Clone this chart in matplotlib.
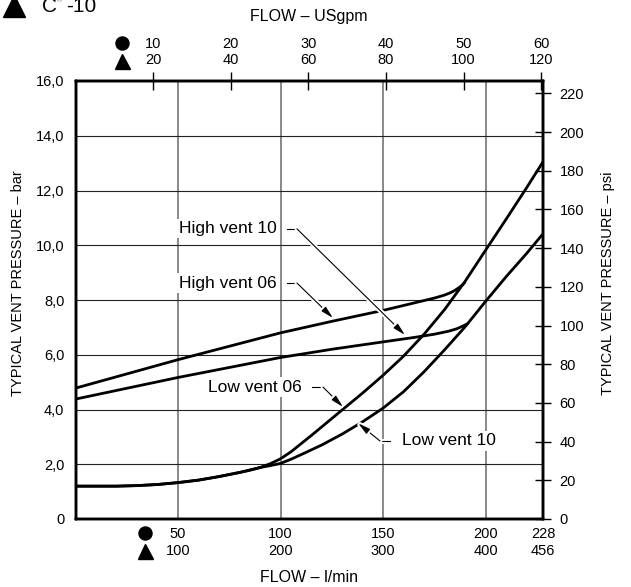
import matplotlib
matplotlib.use('Agg')
import matplotlib.pyplot as plt
from matplotlib.lines import Line2D
import matplotlib.patheffects as pe

plt.rcParams['font.family'] = ['Liberation Sans', 'DejaVu Sans']

# ---------------- data ----------------
flow_low06 = [0, 10, 20, 30, 40, 50, 60, 70, 80, 85, 90, 95, 100, 105, 110, 115, 120, 130, 140, 150,
              160, 170, 180, 190, 200, 210, 220, 228]
p_low06 = [1.2, 1.2, 1.2, 1.22, 1.26, 1.33, 1.42, 1.55, 1.7, 1.78, 1.88, 2.02, 2.2, 2.45, 2.75, 3.05,
           3.36, 3.98, 4.6, 5.25, 5.95, 6.75, 7.65, 8.68, 9.82, 10.95, 12.1, 13.05]

flow_low10 = [0, 10, 20, 30, 40, 50, 60, 70, 80, 90, 95, 100, 105, 110, 120, 130, 140, 150, 160,
              170, 180, 190, 200, 210, 220, 228]
p_low10 = [1.2, 1.2, 1.2, 1.22, 1.26, 1.33, 1.42, 1.55, 1.7, 1.88, 1.95, 2.03, 2.18, 2.35, 2.7, 3.1,
           3.55, 4.05, 4.65, 5.38, 6.18, 7.02, 7.95, 8.85, 9.7, 10.42]

flow_high06 = [0, 50, 100, 125, 150, 160, 170, 175, 180, 183, 185, 187, 189, 190]
p_high06 = [4.78, 5.82, 6.8, 7.22, 7.62, 7.8, 7.98, 8.07, 8.18, 8.27, 8.35, 8.45, 8.57, 8.66]

flow_high10 = [0, 50, 100, 125, 150, 165, 175, 182, 186, 189, 191.6]
p_high10 = [4.38, 5.17, 5.9, 6.2, 6.47, 6.63, 6.75, 6.86, 6.95, 7.05, 7.15]

bar_ticks = [0, 2, 4, 6, 8, 10, 12, 14, 16]
bar_labels = ['0', '2,0', '4,0', '6,0', '8,0', '10,0', '12,0', '14,0', '16,0']
psi_ticks = [0, 20, 40, 60, 80, 100, 120, 140, 160, 180, 200, 220]
lpm_ticks = [50, 100, 150, 200, 228]
lpm_labels_06 = ['50', '100', '150', '200', '228']
lpm_labels_10 = ['100', '200', '300', '400', '456']
gpm_06 = [10, 20, 30, 40, 50, 60]
gpm_10 = [20, 40, 60, 80, 100, 120]
LPM_PER_GPM = 3.785
PSI_PER_BAR = 14.15
FLOW_MAX = 228
BAR_MAX = 16

# ---------------- figure ----------------
W, H = 631, 587
fig = plt.figure(figsize=(W / 100, H / 100), dpi=100)
L, R, T, B = 75.5, 543, 81, 519
ax = fig.add_axes([L / W, 1 - B / H, (R - L) / W, (B - T) / H])
ax.set_xlim(0, FLOW_MAX)
ax.set_ylim(0, BAR_MAX)

FS = 10.5
FS_LAB = 12.5
FS_AX = 11.5
SPW = 1.7

# left axis
ax.set_yticks(bar_ticks)
ax.set_yticklabels(bar_labels, fontsize=FS)
ax.tick_params(axis='y', length=0, pad=8)
# bottom axis
ax.set_xticks(lpm_ticks)
ax.set_xticklabels([f"{a}\n{b}" for a, b in zip(lpm_labels_06, lpm_labels_10)], fontsize=FS)
ax.tick_params(axis='x', length=0, pad=6)

ax.set_axisbelow(True)
ax.yaxis.grid(True, color='#222222', lw=0.8)
ax.xaxis.grid(True, color='#6a6a6a', lw=1.1)

# curves
lw = 2.0
for xs, ys in [(flow_low06, p_low06), (flow_low10, p_low10),
               (flow_high06, p_high06), (flow_high10, p_high10)]:
    ax.plot(xs, ys, color='k', lw=lw, zorder=3, solid_capstyle='butt', solid_joinstyle='round')

# top axis (USgpm)
axt = ax.twiny()
axt.set_xlim(0, FLOW_MAX)
axt.set_xticks([g * LPM_PER_GPM for g in gpm_06])
axt.set_xticklabels([f"{a}\n{b}" for a, b in zip(gpm_06, gpm_10)], fontsize=FS)
axt.tick_params(axis='x', direction='inout', length=13, width=1.0, pad=3.5)

# right axis (psi)
axr = ax.twinx()
axr.set_ylim(0, BAR_MAX * PSI_PER_BAR)
axr.set_yticks(psi_ticks)
axr.set_yticklabels([str(v) for v in psi_ticks], fontsize=FS)
axr.tick_params(axis='y', direction='inout', length=12, width=1.0, pad=6)

for a in (ax, axt, axr):
    for s in a.spines.values():
        s.set_linewidth(SPW)

# annotations
white = [pe.withStroke(linewidth=3.5, foreground='white')]
bbox = dict(facecolor='white', edgecolor='none', pad=1.5)


def label(text, tx, ty, ha, seg, tip):
    ax.text(tx, ty, text, fontsize=FS_LAB, ha=ha, va='center', bbox=bbox, zorder=5)
    ax.plot([seg[0], seg[1]], [ty, ty], color='k', lw=0.8, zorder=6, path_effects=white)
    ax.annotate('', xy=tip, xytext=(seg[1], ty),
                arrowprops=dict(arrowstyle='-|>,head_length=0.75,head_width=0.18', lw=0.8,
                                color='k', shrinkA=0, shrinkB=0, path_effects=white),
                zorder=6)


label('High vent 10', 98.3, 10.6, 'right', (103.2, 108.0), (160.7, 6.72))
label('High vent 06', 98.3, 8.62, 'right', (103.2, 108.0), (125.6, 7.34))
label('Low vent 06', 110.5, 4.82, 'right', (115.4, 120.7), (130.5, 4.09))
label('Low vent 10', 159.3, 2.85, 'left', (153.4, 148.5), (137.8, 3.5))


# ---------------- figure-level texts / symbols ----------------
def fx(px):
    return px / W


def fy(py):
    return 1 - py / H


fig.text(fx(309), fy(17), 'FLOW – USgpm', fontsize=FS_AX, ha='center', va='center')
fig.text(fx(309), fy(577), 'FLOW – l/min', fontsize=FS_AX, ha='center', va='center')
fig.text(fx(18), fy(283), 'TYPICAL VENT PRESSURE – bar', fontsize=FS, rotation=90,
         ha='center', va='center')
fig.text(fx(608), fy(283), 'TYPICAL VENT PRESSURE – psi', fontsize=FS, rotation=90,
         ha='center', va='center')

# series symbols
for (x, y, m, ms) in [(121.5, 42.7, 'o', 9.4), (121.5, 61, '^', 10.8),
                      (145, 533, 'o', 9.4), (145, 551, '^', 10.8)]:
    fig.add_artist(Line2D([fx(x)], [fy(y)], marker=m, ms=ms, color='k', mec='k',
                          transform=fig.transFigure, linestyle='none'))

# title (cut at top, as in the reference)
fig.add_artist(Line2D([fx(14)], [fy(6)], marker='^', ms=16, color='k', mec='k',
                      transform=fig.transFigure, linestyle='none'))
fig.text(fx(42), fy(12), 'C', fontsize=15, ha='left', va='baseline')
fig.text(fx(57), fy(2), '®', fontsize=5, ha='left', va='baseline', color='#777777')
fig.text(fx(66), fy(12), '-10', fontsize=15, ha='left', va='baseline')

fig.savefig('out.png', dpi=100)
